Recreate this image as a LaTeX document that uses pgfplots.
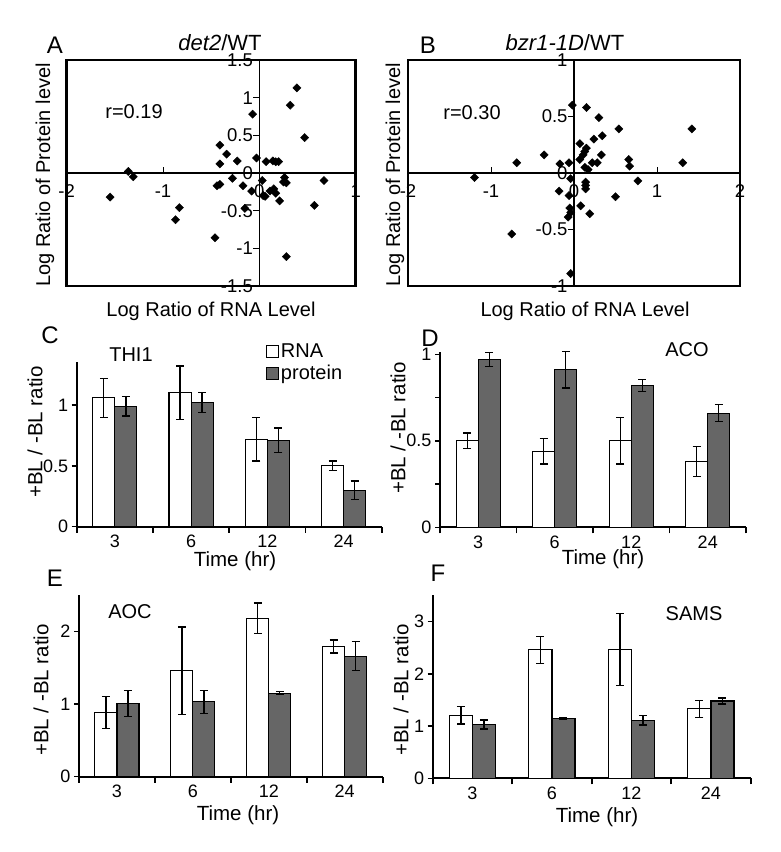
\documentclass[border=0pt]{standalone}
\usepackage{pgfplots}
\pgfplotsset{compat=1.18}
\usepackage{fontspec}
\setmainfont{Liberation Sans}
\definecolor{prot}{gray}{0.4}
\newcommand{\fs}[1]{\fontsize{#1}{#1}\selectfont}
\pgfplotsset{
  scat/.style={anchor=south west, scale only axis, clip=false,
    axis lines=middle, axis line style={line width=1.2pt,-},
    every inner x axis line/.append style={-}, every inner y axis line/.append style={-},
    hide obscured x ticks=false, hide obscured y ticks=false,
    tick style={black,line width=1pt}, major tick length=6pt,
    major x tick style={yshift=3pt}, major y tick style={xshift=-3pt},
    ticklabel style={font=\fs{18.5}},
    xticklabel style={yshift=-5pt},
    after end axis/.code={\draw[line width=2.5pt] (rel axis cs:0,0) rectangle (rel axis cs:1,1);}},
  dia/.style={only marks, mark=square*, mark size=2.9pt, mark options={rotate=45, fill=black, draw=black}},
  barp/.style={anchor=south west, scale only axis, clip=false, ybar,
    xmin=-0.5, xmax=3.5, ymin=0,
    axis x line=bottom, axis y line=left, axis line style={line width=2pt,-},
    xtick={0,1,2,3}, xticklabels={3,6,12,24},
    minor xtick={-0.5,0.5,1.5,2.5,3.5}, minor tick length=6pt,
    major x tick style={draw=none},
    minor x tick style={line width=1.6pt, black},
    major y tick style={line width=1.5pt, black},
    tick align=outside, major tick length=5pt,
    ticklabel style={font=\fs{18}},
    bar width=0.29,
    error bars/error bar style={line width=1.3pt, black},
    error bars/error mark options={rotate=90, mark size=4pt, line width=1.3pt, black}},
  rna/.style={fill=white, draw=black, line width=1.1pt, bar shift=-0.145,
    error bars/.cd, y dir=both, y explicit},
  prt/.style={fill=prot, draw=black, line width=1.1pt, bar shift=0.145,
    error bars/.cd, y dir=both, y explicit},
}
\begin{document}
\begin{tikzpicture}[x=1pt,y=1pt]

% ---------- A ----------
\begin{axis}[scat, at={(66.7pt,566pt)}, width=289pt, height=226pt,
  xmin=-2, xmax=1, ymin=-1.5, ymax=1.5,
  xtick={-2,-1,0,1}, xticklabels={-2,-1,0,1},
  ytick={-1.5,-1,-0.5,0,0.5,1,1.5}, yticklabels={-1.5,-1,-0.5,0,0.5,1,1.5}]
\addplot[dia] coordinates {
(0.39,1.13) (0.32,0.90) (-0.07,0.78) (0.47,0.47) (-0.41,0.37) (-0.34,0.25)
(-0.03,0.20) (-0.23,0.16) (-0.41,0.12) (0.07,0.15) (0.14,0.16) (0.17,0.15)
(0.20,0.15) (-1.36,0.02) (-1.31,-0.05) (-0.28,-0.07) (0.03,-0.10) (0.26,-0.06)
(0.25,-0.12) (0.28,-0.13) (0.67,-0.10) (-0.41,-0.15) (-0.44,-0.17) (-0.17,-0.17)
(-0.08,-0.24) (0.04,-0.30) (0.06,-0.31) (0.11,-0.24) (0.15,-0.21) (0.17,-0.27)
(0.21,-0.37) (0.57,-0.43) (-0.15,-0.47) (-0.83,-0.46) (-0.87,-0.62) (-0.46,-0.86)
(-1.55,-0.32) (0.28,-1.11)};
\end{axis}

% ---------- B ----------
\begin{axis}[scat, at={(408pt,566pt)}, width=332pt, height=226pt,
  xmin=-2, xmax=2, ymin=-1, ymax=1,
  xtick={-2,-1,0,1,2}, xticklabels={-2,-1,0,1,2},
  ytick={-1,-0.5,0,0.5,1}, yticklabels={-1,-0.5,0,0.5,1}]
\addplot[dia] coordinates {
(-0.02,0.60) (0.15,0.58) (0.30,0.49) (0.54,0.39) (1.42,0.39) (0.34,0.33)
(0.24,0.30) (0.07,0.26) (0.15,0.22) (0.13,0.19) (0.11,0.16) (0.07,0.12)
(-0.36,0.16) (0.33,0.16) (-0.69,0.09) (-0.17,0.08) (-0.06,0.09) (0.22,0.09)
(0.28,0.09) (0.13,0.05) (0.17,0.03) (0.66,0.12) (0.67,0.06) (1.31,0.09)
(-1.20,-0.04) (-0.04,-0.05) (0.77,-0.07) (0.14,-0.08) (0.14,-0.11) (0.14,-0.14)
(-0.18,-0.16) (-0.06,-0.20) (0.50,-0.21) (0.08,-0.29) (-0.05,-0.31) (-0.04,-0.35)
(-0.07,-0.39) (0.19,-0.36) (-0.75,-0.54) (-0.04,-0.89)};
\end{axis}

% ---------- C ----------
\begin{axis}[barp, at={(76.7pt,325.3pt)}, width=305pt, height=165pt, ymax=1.356,
  ytick={0,0.5,1}, yticklabels={0,0.5,1},
  legend style={at={(rel axis cs:0.62,1.12)}, anchor=north west, draw=none, fill=none,
    font=\fs{20}, row sep=2pt, inner sep=0pt,
    legend cell align=left},
  legend image code/.code={\draw[#1,/tikz/.cd,line width=1pt] (0pt,-6pt) rectangle (12pt,6pt);}]
\addplot[rna] coordinates {(0,1.06) +- (0,0.16) (1,1.10) +- (0,0.22) (2,0.72) +- (0,0.18) (3,0.50) +- (0,0.04)};
\addplot[prt] coordinates {(0,0.99) +- (0,0.08) (1,1.02) +- (0,0.08) (2,0.71) +- (0,0.10) (3,0.30) +- (0,0.075)};
\legend{RNA, protein}
\end{axis}

% ---------- D ----------
\begin{axis}[barp, at={(440pt,324.7pt)}, width=306pt, height=175.6pt, ymax=1.015,
  ytick={0,0.25,0.5,0.75,1}, yticklabels={0,,0.5,,1}]
\addplot[rna] coordinates {(0,0.50) +- (0,0.045) (1,0.44) +- (0,0.075) (2,0.50) +- (0,0.135) (3,0.38) +- (0,0.085)};
\addplot[prt] coordinates {(0,0.97) +- (0,0.04) (1,0.91) +- (0,0.105) (2,0.82) +- (0,0.035) (3,0.66) +- (0,0.05)};
\end{axis}

% ---------- E ----------
\begin{axis}[barp, at={(79pt,75.3pt)}, width=303.7pt, height=181.7pt, ymax=2.5,
  ytick={0,1,2}, yticklabels={0,1,2}]
\addplot[rna] coordinates {(0,0.88) +- (0,0.22) (1,1.46) +- (0,0.6) (2,2.18) +- (0,0.21) (3,1.79) +- (0,0.09)};
\addplot[prt] coordinates {(0,1.01) +- (0,0.18) (1,1.03) +- (0,0.16) (2,1.15) +- (0,0.02) (3,1.66) +- (0,0.2)};
\end{axis}

% ---------- F ----------
\begin{axis}[barp, at={(432.7pt,73.7pt)}, width=318pt, height=183.3pt, ymax=3.51,
  ytick={0,1,2,3}, yticklabels={0,1,2,3}]
\addplot[rna] coordinates {(0,1.21) +- (0,0.17) (1,2.46) +- (0,0.26) (2,2.47) +- (0,0.69) (3,1.33) +- (0,0.16)};
\addplot[prt] coordinates {(0,1.03) +- (0,0.085) (1,1.15) +- (0,0.02) (2,1.11) +- (0,0.09) (3,1.48) +- (0,0.06)};
\end{axis}

% ---------- texts ----------
\node[font=\fs{24}] at (55,807) {A};
\node[font=\fs{24}] at (428,807) {B};
\node[font=\fs{22}] at (220,809) {\textit{det2}/WT};
\node[font=\fs{22}] at (565,809) {\textit{bzr1-1D}/WT};
\node[font=\fs{20}] at (134,740) {r=0.19};
\node[font=\fs{20}] at (472,739) {r=0.30};
\node[font=\fs{20}] at (211,541) {Log Ratio of RNA Level};
\node[font=\fs{20}] at (585,541) {Log Ratio of RNA Level};
\node[font=\fs{20}, rotate=90] at (45,677) {Log Ratio of Protein level};
\node[font=\fs{20}, rotate=90] at (395,677) {Log Ratio of Protein level};

\node[font=\fs{24}] at (50,517) {C};
\node[font=\fs{24}] at (430,514) {D};
\node[font=\fs{24}] at (55,274) {E};
\node[font=\fs{24}] at (438,279) {F};
\node[font=\fs{20}] at (131,497) {THI1};
\node[font=\fs{20}] at (687,502) {ACO};
\node[font=\fs{20}] at (130,240) {AOC};
\node[font=\fs{20}] at (694,238) {SAMS};
\node[font=\fs{20.5}, rotate=90] at (35,420) {+BL / -BL ratio};
\node[font=\fs{20.5}, rotate=90] at (398,424) {+BL / -BL ratio};
\node[font=\fs{20.5}, rotate=90] at (41,162) {+BL / -BL ratio};
\node[font=\fs{20.5}, rotate=90] at (401,162) {+BL / -BL ratio};
\node[font=\fs{20.5}] at (235,291) {Time (hr)};
\node[font=\fs{20.5}] at (603,293) {Time (hr)};
\node[font=\fs{20.5}] at (238,37) {Time (hr)};
\node[font=\fs{20.5}] at (597,35) {Time (hr)};

\pgfresetboundingbox
\path[use as bounding box] (0,0) rectangle (780,852);
\end{tikzpicture}
\end{document}
